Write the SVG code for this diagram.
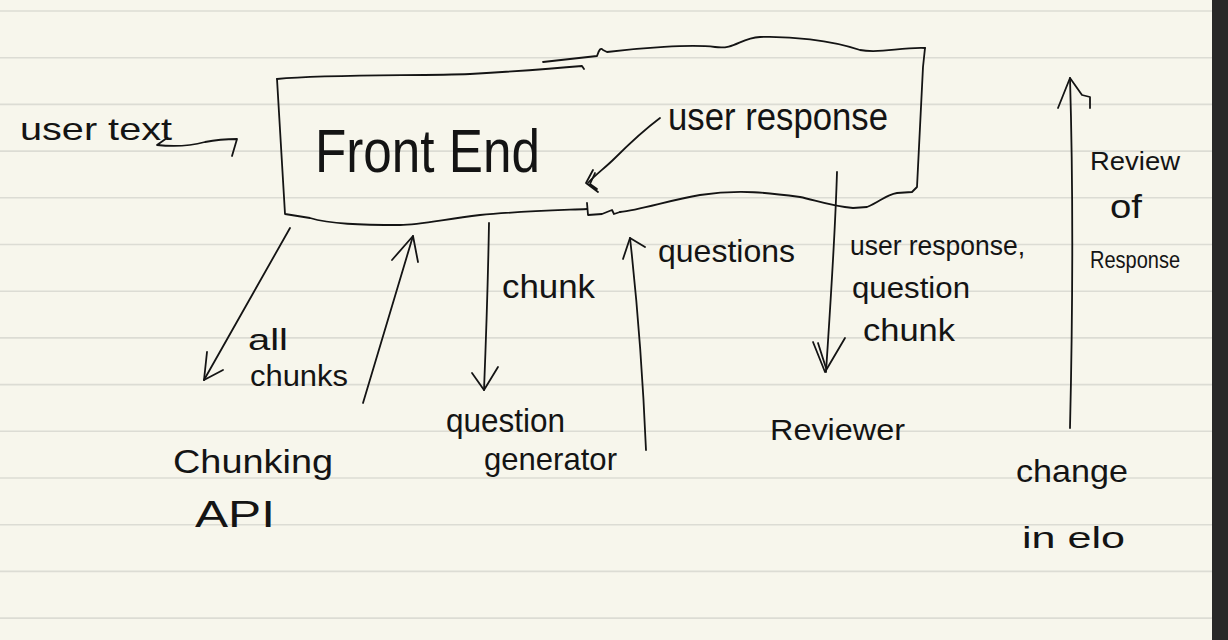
<svg xmlns="http://www.w3.org/2000/svg" width="1228" height="640" viewBox="0 0 1228 640">
<defs>
<style>
.rule{stroke:#dcdcd4;stroke-width:1.6;fill:none}
.ink{stroke:#141414;stroke-width:1.8;fill:none;stroke-linecap:round;stroke-linejoin:round}
.t{font-family:"Liberation Sans",Arial,sans-serif;fill:#141414;font-weight:400}
</style>
</defs>
<rect x="0" y="0" width="1228" height="640" fill="#f7f6ec"/>
<g id="paper-lines">
<line class="rule" x1="0" y1="11" x2="1212" y2="11"/>
<line class="rule" x1="0" y1="57.7" x2="1212" y2="57.7"/>
<line class="rule" x1="0" y1="104.4" x2="1212" y2="104.4"/>
<line class="rule" x1="0" y1="151.1" x2="1212" y2="151.1"/>
<line class="rule" x1="0" y1="197.8" x2="1212" y2="197.8"/>
<line class="rule" x1="0" y1="244.5" x2="1212" y2="244.5"/>
<line class="rule" x1="0" y1="291.2" x2="1212" y2="291.2"/>
<line class="rule" x1="0" y1="337.9" x2="1212" y2="337.9"/>
<line class="rule" x1="0" y1="384.6" x2="1212" y2="384.6"/>
<line class="rule" x1="0" y1="431.3" x2="1212" y2="431.3"/>
<line class="rule" x1="0" y1="478" x2="1212" y2="478"/>
<line class="rule" x1="0" y1="524.7" x2="1212" y2="524.7"/>
<line class="rule" x1="0" y1="571.4" x2="1212" y2="571.4"/>
<line class="rule" x1="0" y1="618.1" x2="1212" y2="618.1"/>
</g>
<rect x="1212" y="0" width="16" height="640" fill="#282828"/>

<g id="user-text">
<text class="t" x="20" y="140" font-size="32" textLength="152" lengthAdjust="spacingAndGlyphs">user text</text>
</g>

<g id="front-end">
<path class="ink" d="M277,79 C330,74 420,76 470,74 C520,71 560,68 582,66 L584,69"/>
<path class="ink" d="M543,62 L597,56 Q600,46 603,50 L607,52 C640,48 690,44 715,47 C735,50 740,38 760,37 C790,36 830,40 860,50 C880,54 900,47 925,48"/>
<path class="ink" d="M925,48 L923,67 L917,187 L912,192 L897,193 C885,195 880,202 867,207 L853,208 C830,206 815,200 800,197 C770,193 740,189 700,195 C670,200 640,210 620,212"/>
<path class="ink" d="M587,203 L588,215 L602,214 L612,210 L614,214 L620,212"/>
<path class="ink" d="M587,209 C540,211 510,212 480,215 C440,220 420,225 400,225 C360,225 330,224 310,218 L285,214 L277,79"/>
<text class="t" x="315" y="172" font-size="62" textLength="225" lengthAdjust="spacingAndGlyphs">Front End</text>
</g>

<g id="chunking-api">
<text class="t" x="173" y="473" font-size="34" textLength="160" lengthAdjust="spacingAndGlyphs">Chunking</text>
<text class="t" x="195" y="527" font-size="36" textLength="80" lengthAdjust="spacingAndGlyphs">API</text>
</g>

<g id="question-generator">
<text class="t" x="446" y="432" font-size="34" textLength="119" lengthAdjust="spacingAndGlyphs">question</text>
<text class="t" x="484" y="470" font-size="32" textLength="133" lengthAdjust="spacingAndGlyphs">generator</text>
</g>

<g id="reviewer">
<text class="t" x="770" y="440" font-size="30" textLength="135" lengthAdjust="spacingAndGlyphs">Reviewer</text>
</g>

<g id="change-in-elo">
<text class="t" x="1016" y="482" font-size="32" textLength="112" lengthAdjust="spacingAndGlyphs">change</text>
<text class="t" x="1022" y="548" font-size="30" textLength="103" lengthAdjust="spacingAndGlyphs">in elo</text>
</g>

<g id="connectors">
<path class="ink" d="M167,138 L157,145 C175,147 190,146 205,142 C215,140 225,139 237,139 L232,156"/>
<path class="ink" d="M660,118 C640,133 625,148 615,158 C605,168 595,175 588,183"/>
<path class="ink" d="M593,170 L586,183 L598,192 M595,173 L590,184 L597,189"/>
<text class="t" x="668" y="130" font-size="38" textLength="220" lengthAdjust="spacingAndGlyphs">user response</text>

<path class="ink" d="M290,228 L204,380"/>
<path class="ink" d="M207,352 L204,380 L223,370"/>
<text class="t" x="248" y="350" font-size="30" textLength="40" lengthAdjust="spacingAndGlyphs">all</text>
<text class="t" x="250" y="386" font-size="30" textLength="98" lengthAdjust="spacingAndGlyphs">chunks</text>

<path class="ink" d="M363,403 L413,236"/>
<path class="ink" d="M392,260 L413,236 L418,262"/>

<path class="ink" d="M489,223 C488,280 486,340 484,390"/>
<path class="ink" d="M472,373 L484,390 L498,367"/>
<text class="t" x="502" y="298" font-size="34" textLength="93" lengthAdjust="spacingAndGlyphs">chunk</text>

<path class="ink" d="M646,450 C643,380 637,300 630,238"/>
<path class="ink" d="M623,259 L630,238 L645,247"/>
<text class="t" x="658" y="262" font-size="32" textLength="137" lengthAdjust="spacingAndGlyphs">questions</text>

<path class="ink" d="M837,172 C835,240 830,310 826,372"/>
<path class="ink" d="M813,342 L825,372 L845,338 M818,343 L826,368"/>
<text class="t" x="850" y="255" font-size="28" textLength="175" lengthAdjust="spacingAndGlyphs">user response,</text>
<text class="t" x="852" y="298" font-size="30" textLength="118" lengthAdjust="spacingAndGlyphs">question</text>
<text class="t" x="863" y="341" font-size="32" textLength="92" lengthAdjust="spacingAndGlyphs">chunk</text>

<path class="ink" d="M1070,428 C1073,300 1073,180 1070,78"/>
<path class="ink" d="M1058,108 L1070,78 L1082,95 L1090,97 L1090,108"/>
<text class="t" x="1090" y="170" font-size="26" textLength="90" lengthAdjust="spacingAndGlyphs">Review</text>
<text class="t" x="1110" y="218" font-size="34" textLength="32" lengthAdjust="spacingAndGlyphs">of</text>
<text class="t" x="1090" y="268" font-size="24" textLength="90" lengthAdjust="spacingAndGlyphs">Response</text>
</g>
</svg>
